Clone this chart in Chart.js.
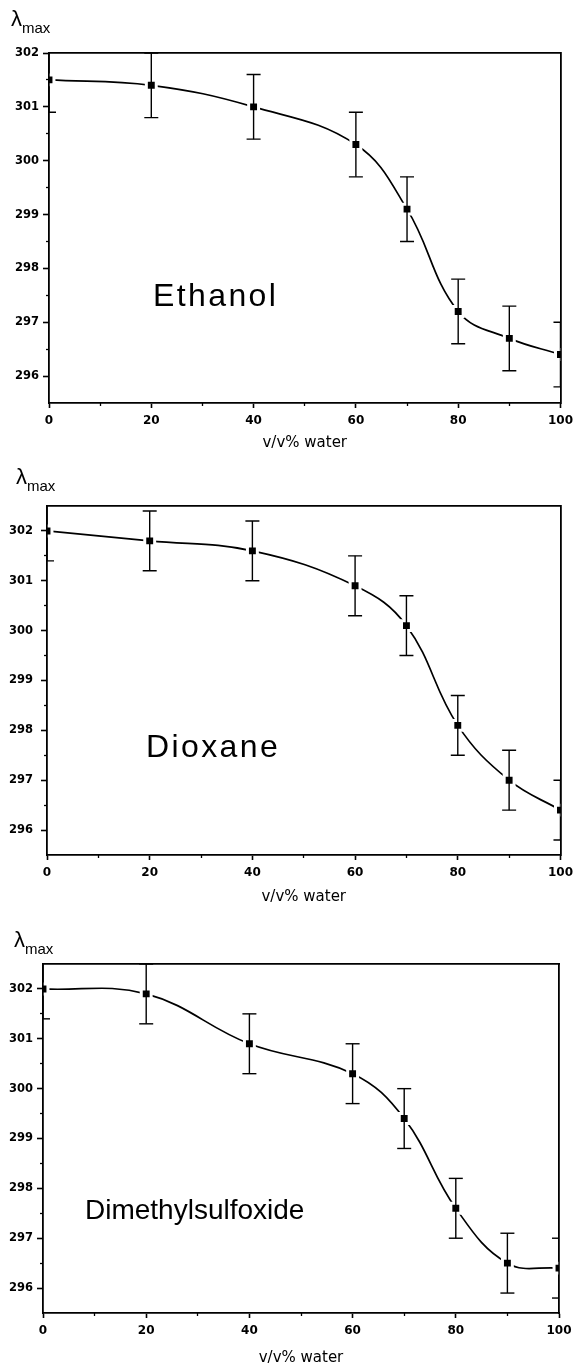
<!DOCTYPE html>
<html>
<head>
<meta charset="utf-8">
<script src="https://cdn.jsdelivr.net/npm/chart.js@4.4.1/dist/chart.umd.min.js"></script>
<style>
html,body{margin:0;padding:0;background:#fff;}
#page{position:relative;width:579px;height:1368px;overflow:hidden;background:#fff;}
canvas{position:absolute;left:0;}
.lam{position:absolute;font-family:'Liberation Sans',Arial,sans-serif;font-size:22px;line-height:22px;color:#000;white-space:nowrap;}
.lam span{font-size:15px;position:relative;top:7px;}
.solv{position:absolute;font-family:'Liberation Sans',Arial,sans-serif;color:#000;white-space:nowrap;}
</style>
</head>
<body>
<div id="page">
  <canvas id="c1" width="579" height="455" style="top:0px"></canvas>
  <canvas id="c2" width="579" height="455" style="top:455px"></canvas>
  <canvas id="c3" width="579" height="458" style="top:910px"></canvas>
  <div class="lam" style="left:11px;top:8px">λ<span>max</span></div>
  <div class="lam" style="left:16px;top:466px">λ<span>max</span></div>
  <div class="lam" style="left:14px;top:929px">λ<span>max</span></div>
  <div class="solv" id="lab1" style="left:153px;top:279px;font-size:32px;line-height:32px;letter-spacing:2.4px"></div>
  <div class="solv" id="lab2" style="left:146px;top:730px;font-size:32px;line-height:32px;letter-spacing:2.4px"></div>
  <div class="solv" id="lab3" style="left:85px;top:1196px;font-size:28px;line-height:28px"></div>
</div>
<script>
// ---- data ----
const WATER_PCT = [0, 20, 40, 60, 70, 80, 90, 100];
const ETHANOL = [301.5, 301.4, 301.0, 300.3, 299.1, 297.2, 296.7, 296.4];
const DIOXANE = [302.0, 301.8, 301.6, 300.9, 300.1, 298.1, 297.0, 296.4];
const DMSO    = [302.0, 301.9, 300.9, 300.3, 299.4, 297.6, 296.5, 296.4];
const ETHANOL_ERR = [0.6, 0.6, 0.6, 0.6, 0.6, 0.6, 0.6, 0.6];
const DIOXANE_ERR = [0.6, 0.6, 0.6, 0.6, 0.6, 0.6, 0.6, 0.6];
const DMSO_ERR    = [0.6, 0.6, 0.6, 0.6, 0.6, 0.6, 0.6, 0.6];
const SOLVENTS = ['Ethanol', 'Dioxane', 'Dimethylsulfoxide'];
const X_TICKS = [0, 20, 40, 60, 80, 100];
const X_MINOR_TICKS = [10, 30, 50, 70, 90];
const Y_TICKS = [296, 297, 298, 299, 300, 301, 302];
const Y_MINOR_TICKS = [296.5, 297.5, 298.5, 299.5, 300.5, 301.5];
const X_TITLE = 'v/v% water';

const INK = '#000';

function makeChart(id, values, errs, o) {
  const curve = WATER_PCT.map((x, i) => ({x: x, y: values[i]}));
  const stems = [];
  const caps = [];
  WATER_PCT.forEach((x, i) => {
    stems.push({x: x, y: values[i] - errs[i]}, {x: x, y: values[i] + errs[i]}, {x: x, y: null});
    caps.push({x: x, y: values[i] - errs[i]}, {x: x, y: values[i] + errs[i]});
  });
  return new Chart(document.getElementById(id), {
    type: 'line',
    data: {
      datasets: [
        { data: stems, borderColor: INK, borderWidth: 1.4, pointRadius: 0, tension: 0, spanGaps: false, clip: 0 },
        { data: caps, showLine: false, pointStyle: 'line', pointRadius: 7, pointBorderColor: INK, pointBorderWidth: 1.4, clip: 0 },
        { data: curve, borderColor: INK, borderWidth: 1.7, tension: 0.4, pointStyle: 'rect', pointRadius: 7,
          pointBackgroundColor: INK, pointBorderColor: '#fff', pointBorderWidth: 3, clip: 0 }
      ]
    },
    options: {
      responsive: false,
      animation: false,
      devicePixelRatio: 1,
      events: [],
      layout: { padding: { left: 0, top: o.top, right: o.right, bottom: o.bottom } },
      plugins: { legend: { display: false }, tooltip: { enabled: false } },
      scales: {
        x: {
          type: 'linear', position: 'bottom', min: 0, max: 100,
          afterBuildTicks: s => { s.ticks = X_TICKS.map(v => ({value: v})); },
          afterFit: s => { s.height = o.xh; },
          grid: { drawOnChartArea: false, tickLength: 5, tickColor: INK, tickWidth: 1.6 },
          border: { color: INK, width: 1.8 },
          ticks: { color: INK, padding: 6, maxRotation: 0, autoSkip: false,
                   font: { family: 'DejaVu Sans', weight: 'bold', size: 12 } },
          title: { display: true, text: X_TITLE, color: INK, padding: {top: 0, bottom: 0},
                   font: { family: 'DejaVu Sans', size: 15 } }
        },
        xMinor: {
          type: 'linear', position: 'bottom', weight: -1, min: 0, max: 100,
          afterBuildTicks: s => { s.ticks = X_MINOR_TICKS.map(v => ({value: v})); },
          afterFit: s => { s.height = 0; },
          grid: { drawOnChartArea: false, tickLength: 3, tickColor: INK, tickWidth: 1.3 },
          border: { display: false },
          ticks: { display: false }
        },
        y: {
          type: 'linear', position: 'left', min: 295.5, max: o.ymax,
          afterBuildTicks: s => { s.ticks = Y_TICKS.map(v => ({value: v})); },
          afterFit: s => { s.width = o.yw; },
          grid: { drawOnChartArea: false, tickLength: 6, tickColor: INK, tickWidth: 1.6 },
          border: { color: INK, width: 1.8 },
          ticks: { color: INK, padding: o.ypad, autoSkip: false,
                   font: { family: 'DejaVu Sans', weight: 'bold', size: 11.5 } }
        },
        yMinor: {
          type: 'linear', position: 'left', weight: -1, min: 295.5, max: o.ymax,
          afterBuildTicks: s => { s.ticks = Y_MINOR_TICKS.map(v => ({value: v})); },
          afterFit: s => { s.width = 0; },
          grid: { drawOnChartArea: false, tickLength: 3, tickColor: INK, tickWidth: 1.3 },
          border: { display: false },
          ticks: { display: false }
        },
        x2: {
          type: 'linear', position: 'top', min: 0, max: 100,
          afterFit: s => { s.height = 0; },
          grid: { drawOnChartArea: false, drawTicks: false },
          border: { display: true, color: INK, width: 1.8 },
          ticks: { display: false }
        },
        y2: {
          type: 'linear', position: 'right', min: 295.5, max: o.ymax,
          afterFit: s => { s.width = 0; },
          grid: { drawOnChartArea: false, drawTicks: false },
          border: { display: true, color: INK, width: 1.8 },
          ticks: { display: false }
        }
      }
    }
  });
}

makeChart('c1', ETHANOL, ETHANOL_ERR, { top: 53, right: 15, bottom: 3, xh: 49, yw: 49, ypad: 4, ymax: 302 });
makeChart('c2', DIOXANE, DIOXANE_ERR, { top: 51, right: 17, bottom: 4, xh: 51, yw: 47, ypad: 8, ymax: 302.5 });
makeChart('c3', DMSO, DMSO_ERR, { top: 54, right: 20, bottom: 1, xh: 54, yw: 43, ypad: 4, ymax: 302.5 });

document.getElementById('lab1').textContent = SOLVENTS[0];
document.getElementById('lab2').textContent = SOLVENTS[1];
document.getElementById('lab3').textContent = SOLVENTS[2];
</script>
</body>
</html>
